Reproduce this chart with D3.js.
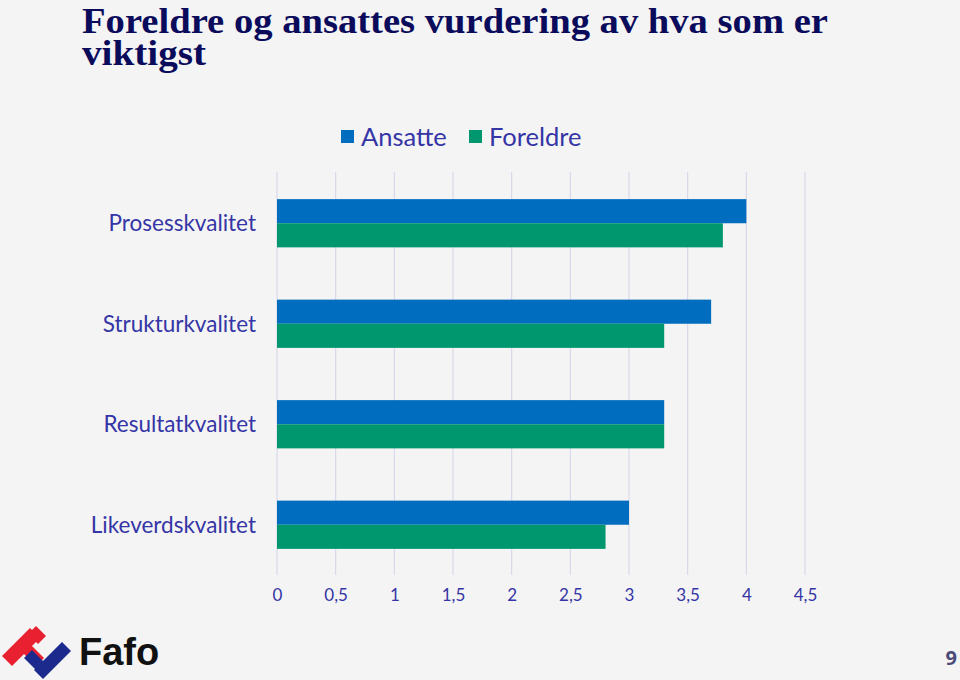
<!DOCTYPE html>
<html><head><meta charset="utf-8">
<script src="https://cdn.jsdelivr.net/npm/d3@7"></script>
<style>html,body{margin:0;padding:0;background:#f4f4f4;}svg{display:block;}</style>
</head><body>
<svg id="c" width="960" height="680"></svg>
<script>
const categories = ["Prosesskvalitet","Strukturkvalitet","Resultatkvalitet","Likeverdskvalitet"];
const seriesNames = ["Ansatte","Foreldre"];
const ansatte = [4.0, 3.7, 3.3, 3.0];
const foreldre = [3.8, 3.3, 3.3, 2.8];
const tickValues = [0,0.5,1,1.5,2,2.5,3,3.5,4,4.5];
const tickLabels = ["0","0,5","1","1,5","2","2,5","3","3,5","4","4,5"];
const colors = ["#006DBF","#00966E"];
const labelColor = "#3535A6";

const svg = d3.select("#c");
svg.append("rect").attr("width",960).attr("height",680).attr("fill","#f4f4f4");

// title
const title = svg.append("text")
  .attr("font-family","'Liberation Serif', serif").attr("font-size",36).attr("font-weight","bold")
  .attr("fill","#0B0B5C");
title.append("tspan").attr("x",82).attr("y",33).attr("textLength",746).attr("lengthAdjust","spacingAndGlyphs")
  .text("Foreldre og ansattes vurdering av hva som er");
title.append("tspan").attr("x",82).attr("y",65).attr("textLength",124).attr("lengthAdjust","spacingAndGlyphs")
  .text("viktigst");

const x = d3.scaleLinear().domain([0,4.5]).range([277,805]);
const y = d3.scaleBand().domain(categories).range([173,575]).paddingInner(0.52).paddingOuter(0.26);
const ys = d3.scaleBand().domain(seriesNames).range([0,y.bandwidth()]);

// gridlines
svg.append("g").selectAll("line").data(tickValues).join("line")
  .attr("x1",d=>x(d)).attr("x2",d=>x(d)).attr("y1",172).attr("y2",575)
  .attr("stroke","#D4D4EA").attr("stroke-width",1);

// bars
const data = categories.map((c,i)=>({c, vals:[ansatte[i],foreldre[i]]}));
const g = svg.append("g").selectAll("g").data(data).join("g")
  .attr("transform",d=>`translate(0,${y(d.c)})`);
g.selectAll("rect").data(d=>d.vals.map((v,j)=>({v,s:seriesNames[j],j}))).join("rect")
  .attr("x",x(0)).attr("y",d=>ys(d.s)).attr("height",ys.bandwidth())
  .attr("width",d=>x(d.v)-x(0)).attr("fill",d=>colors[d.j]);

// category labels
svg.append("g").selectAll("text").data(categories).join("text")
  .attr("x",256).attr("y",d=>y(d)+y.bandwidth()/2).attr("dy","0.35em")
  .attr("text-anchor","end").attr("font-family","Lato, sans-serif").attr("font-size",22.5)
  .attr("fill",labelColor).text(d=>d);

// x axis tick labels
const xAxis = d3.axisBottom(x).tickValues(tickValues).tickFormat((d,i)=>tickLabels[i]).tickSize(0).tickPadding(0);
const ax = svg.append("g").attr("transform","translate(0,589)").call(xAxis);
ax.select(".domain").remove();
ax.selectAll("text").attr("font-family","Lato, sans-serif").attr("font-size",17).attr("fill",labelColor);

// legend
const leg = svg.append("g");
const legX = [341,469];
seriesNames.forEach((s,i)=>{
  leg.append("rect").attr("x",legX[i]).attr("y",130).attr("width",13).attr("height",13).attr("fill",colors[i]);
  leg.append("text").attr("x",legX[i]+20).attr("y",137).attr("dy","0.35em")
    .attr("font-family","Lato, sans-serif").attr("font-size",25.5).attr("fill",labelColor).text(s);
});

// logo
const logo = svg.append("g");
logo.append("polygon").attr("points","2,656 30,628 40,638 12,666").attr("fill","#E8202F");
logo.append("polygon").attr("points","16,646 24,638 44,658 36,666").attr("fill","#E8202F");
logo.append("polygon").attr("points","28,634 36,626 46,636 38,644").attr("fill","#E8202F");
logo.append("polygon").attr("points","34,670 62,642 71,651 43,679").attr("fill","#1B2A8C");
logo.append("polygon").attr("points","24,658 32,650 48,666 40,674").attr("fill","#1B2A8C");
svg.append("text").attr("x",79).attr("y",665).attr("font-family","'Liberation Sans', Arial, sans-serif")
  .attr("font-weight","bold").attr("font-size",38).attr("fill","#111").text("Fafo");

// page number
svg.append("text").attr("x",957).attr("y",665).attr("text-anchor","end")
  .attr("font-family","'Noto Sans', sans-serif").attr("font-weight","bold").attr("font-size",20)
  .attr("fill","#4B4B78").text("9");
</script>
</body></html>
